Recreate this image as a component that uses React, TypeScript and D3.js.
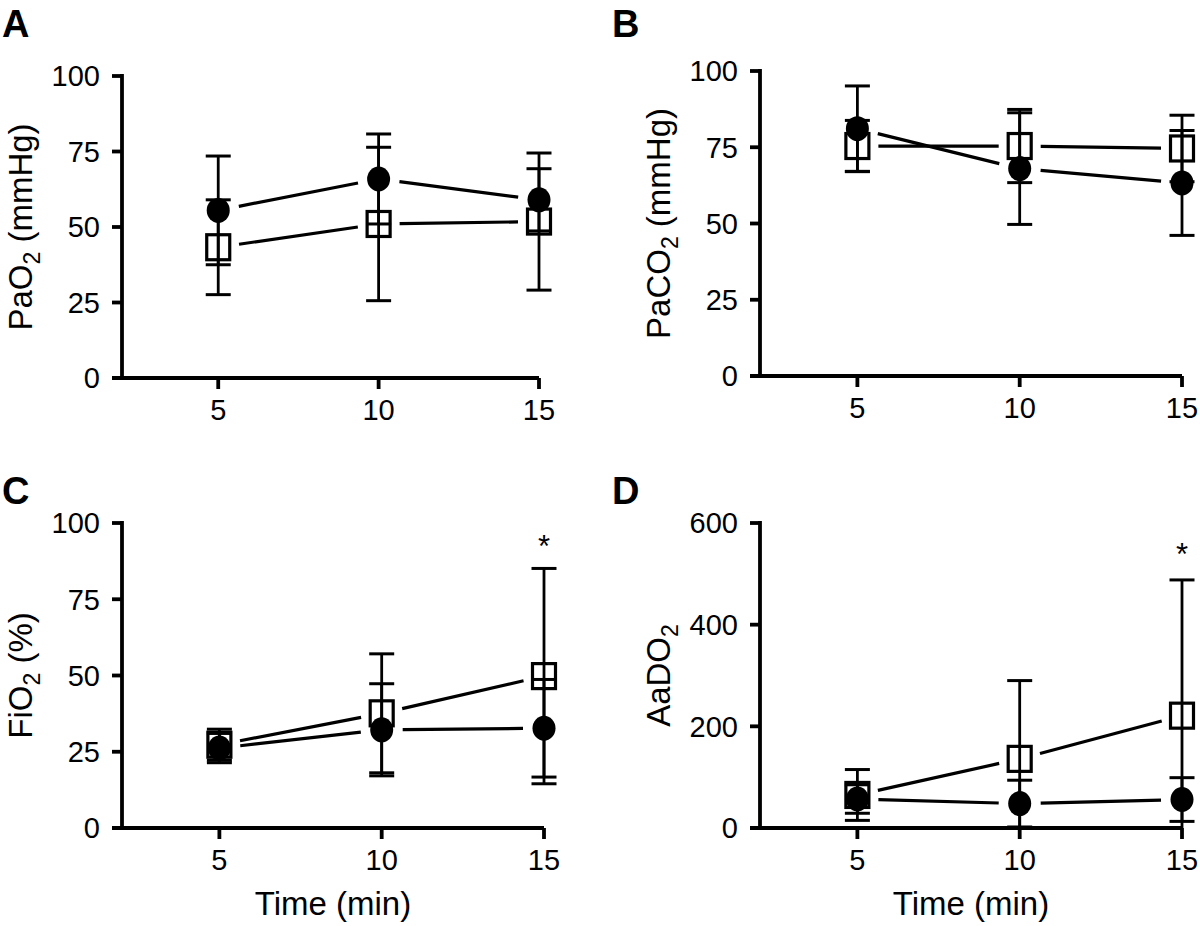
import React from "react";
import * as d3 from "d3";

// ---------- data ----------
const times = [5, 10, 15];
const xTicks = [5, 10, 15];
const pctTicks = [0, 25, 50, 75, 100];
const aaTicks = [0, 200, 400, 600];

// A: PaO2
const paO2Circle = [55.5, 65.9, 59.0];
const paO2CircleErr = [18.0, 14.9, 10.3];
const paO2Square = [43.3, 51.0, 51.8];
const paO2SquareErr = [15.7, 25.4, 22.7];

// B: PaCO2
const paCO2Circle = [81.1, 68.0, 63.3];
const paCO2CircleErr = [14.0, 18.3, 17.2];
const paCO2Square = [75.4, 75.4, 74.6];
const paCO2SquareErr = [8.4, 12.0, 10.9];

// C: FiO2
const fiO2Circle = [26.2, 32.2, 32.7];
const fiO2CircleErr = [4.8, 15.1, 16.0];
const fiO2Square = [27.3, 37.6, 49.8];
const fiO2SquareErr = [5.1, 19.5, 35.3];

// D: AaDO2
const aaDO2Circle = [57, 48, 56];
const aaDO2CircleErr = [28, 46, 43];
const aaDO2Square = [65, 136, 221];
const aaDO2SquareErr = [50, 154, 267];

// significance markers
const fiO2Stars = [{ t: 15, v: 96 }];
const aaDO2Stars = [{ t: 15, v: 560 }];

const FONT = '"Liberation Sans", Arial, Helvetica, sans-serif';

type PanelProps = {
  letter: string;
  letterX: number;
  letterY: number;
  title: string;
  titleSub: string;
  titleRest: string;
  xRange: [number, number];
  yRange: [number, number];
  yMax: number;
  yTicks: number[];
  circle: number[];
  circleErr: number[];
  square: number[];
  squareErr: number[];
  stars?: { t: number; v: number }[];
  showXTitle: boolean;
};

function shorten(x1: number, y1: number, x2: number, y2: number, d: number) {
  const dx = x2 - x1;
  const dy = y2 - y1;
  const len = Math.sqrt(dx * dx + dy * dy);
  const ux = dx / len;
  const uy = dy / len;
  return [x1 + ux * d, y1 + uy * d, x2 - ux * d, y2 - uy * d];
}

function Panel(p: PanelProps) {
  const x = d3.scaleLinear().domain([2, 15]).range(p.xRange);
  const y = d3.scaleLinear().domain([0, p.yMax]).range(p.yRange);
  const axX = p.xRange[0];
  const axY = p.yRange[0];
  const gap = 21;
  const capW = 12.5;

  const segs = (vals: number[]) =>
    d3.pairs(times.map((t, i) => [x(t), y(vals[i])] as [number, number])).map(([a, b]) =>
      shorten(a[0], a[1], b[0], b[1], gap)
    );

  const errBar = (vals: number[], errs: number[], key: string) =>
    times.map((t, i) => {
      const hi = vals[i] + errs[i];
      const lo = vals[i] - errs[i];
      const cx = x(t);
      const loClipped = lo < 0;
      return (
        <g key={key + i}>
          <line x1={cx} x2={cx} y1={y(hi)} y2={y(Math.max(lo, 0))} stroke="#000" strokeWidth={2.8} />
          <line x1={cx - capW} x2={cx + capW} y1={y(hi)} y2={y(hi)} stroke="#000" strokeWidth={3} />
          {!loClipped && (
            <line x1={cx - capW} x2={cx + capW} y1={y(lo)} y2={y(lo)} stroke="#000" strokeWidth={3} />
          )}
        </g>
      );
    });

  const titleCx = axX - 102;
  const titleCy = (p.yRange[0] + p.yRange[1]) / 2;

  return (
    <g>
      <text x={p.letterX} y={p.letterY} fontFamily={FONT} fontWeight="bold" fontSize={38}>
        {p.letter}
      </text>
      {/* axes */}
      <line x1={axX} x2={axX} y1={p.yRange[1]} y2={axY} stroke="#000" strokeWidth={3.8} strokeLinecap="square" />
      <line x1={axX - 10} x2={p.xRange[1]} y1={axY} y2={axY} stroke="#000" strokeWidth={3.8} />
      {p.yTicks.map((t) => (
        <g key={"yt" + t}>
          <line x1={axX - 10} x2={axX} y1={y(t)} y2={y(t)} stroke="#000" strokeWidth={3.8} />
          <text
            x={axX - 22}
            y={y(t)}
            dy="0.36em"
            textAnchor="end"
            fontFamily={FONT}
            fontSize={29}
          >
            {t}
          </text>
        </g>
      ))}
      {xTicks.map((t) => (
        <g key={"xt" + t}>
          <line x1={x(t)} x2={x(t)} y1={axY} y2={axY + 11} stroke="#000" strokeWidth={3.8} />
          <text x={x(t)} y={axY + 42} textAnchor="middle" fontFamily={FONT} fontSize={29}>
            {t}
          </text>
        </g>
      ))}
      {/* y title */}
      <text
        transform={`translate(${titleCx},${titleCy}) rotate(-90)`}
        textAnchor="middle"
        fontFamily={FONT}
        fontSize={33}
        dy="0.36em"
      >
        {p.title}
        <tspan fontSize={23} dy={8}>
          {p.titleSub}
        </tspan>
        <tspan dy={-8}>{p.titleRest}</tspan>
      </text>
      {p.showXTitle && (
        <text
          x={(p.xRange[0] + p.xRange[1]) / 2}
          y={915}
          textAnchor="middle"
          fontFamily={FONT}
          fontSize={33}
        >
          Time (min)
        </text>
      )}
      {/* connecting lines */}
      {segs(p.square).map((s, i) => (
        <line key={"ls" + i} x1={s[0]} y1={s[1]} x2={s[2]} y2={s[3]} stroke="#000" strokeWidth={3.2} />
      ))}
      {segs(p.circle).map((s, i) => (
        <line key={"lc" + i} x1={s[0]} y1={s[1]} x2={s[2]} y2={s[3]} stroke="#000" strokeWidth={3.2} />
      ))}
      {/* squares */}
      {times.map((t, i) => (
        <rect
          key={"sq" + i}
          x={x(t) - 11.5}
          y={y(p.square[i]) - 12.5}
          width={23}
          height={25}
          fill="#fff"
          stroke="#000"
          strokeWidth={3.2}
        />
      ))}
      {errBar(p.square, p.squareErr, "es")}
      {errBar(p.circle, p.circleErr, "ec")}
      {/* circles */}
      {times.map((t, i) => (
        <ellipse key={"ci" + i} cx={x(t)} cy={y(p.circle[i])} rx={11.5} ry={12.5} fill="#000" />
      ))}
      {(p.stars || []).map((s, i) => (
        <text
          key={"st" + i}
          x={x(s.t)}
          y={y(s.v)}
          dy="0.7em"
          textAnchor="middle"
          fontFamily={FONT}
          fontSize={31}
        >
          *
        </text>
      ))}
    </g>
  );
}

export default function App() {
  return (
    <svg
      width={1200}
      height={926}
      style={{ position: "absolute", left: 0, top: 0, background: "#fff" }}
    >
      <rect width={1200} height={926} fill="#fff" />
      <Panel
        letter="A"
        letterX={2}
        letterY={37}
        title="PaO"
        titleSub="2"
        titleRest=" (mmHg)"
        xRange={[122, 539]}
        yRange={[378, 76]}
        yMax={100}
        yTicks={pctTicks}
        circle={paO2Circle}
        circleErr={paO2CircleErr}
        square={paO2Square}
        squareErr={paO2SquareErr}
        showXTitle={false}
      />
      <Panel
        letter="B"
        letterX={612}
        letterY={37}
        title="PaCO"
        titleSub="2"
        titleRest=" (mmHg)"
        xRange={[760, 1182]}
        yRange={[376, 71]}
        yMax={100}
        yTicks={pctTicks}
        circle={paCO2Circle}
        circleErr={paCO2CircleErr}
        square={paCO2Square}
        squareErr={paCO2SquareErr}
        showXTitle={false}
      />
      <Panel
        letter="C"
        letterX={2}
        letterY={504}
        title="FiO"
        titleSub="2"
        titleRest=" (%)"
        xRange={[122, 544]}
        yRange={[828, 523]}
        yMax={100}
        yTicks={pctTicks}
        circle={fiO2Circle}
        circleErr={fiO2CircleErr}
        square={fiO2Square}
        squareErr={fiO2SquareErr}
        stars={fiO2Stars}
        showXTitle={true}
      />
      <Panel
        letter="D"
        letterX={612}
        letterY={504}
        title="AaDO"
        titleSub="2"
        titleRest=""
        xRange={[760, 1182]}
        yRange={[828, 523]}
        yMax={600}
        yTicks={aaTicks}
        circle={aaDO2Circle}
        circleErr={aaDO2CircleErr}
        square={aaDO2Square}
        squareErr={aaDO2SquareErr}
        stars={aaDO2Stars}
        showXTitle={true}
      />
    </svg>
  );
}
